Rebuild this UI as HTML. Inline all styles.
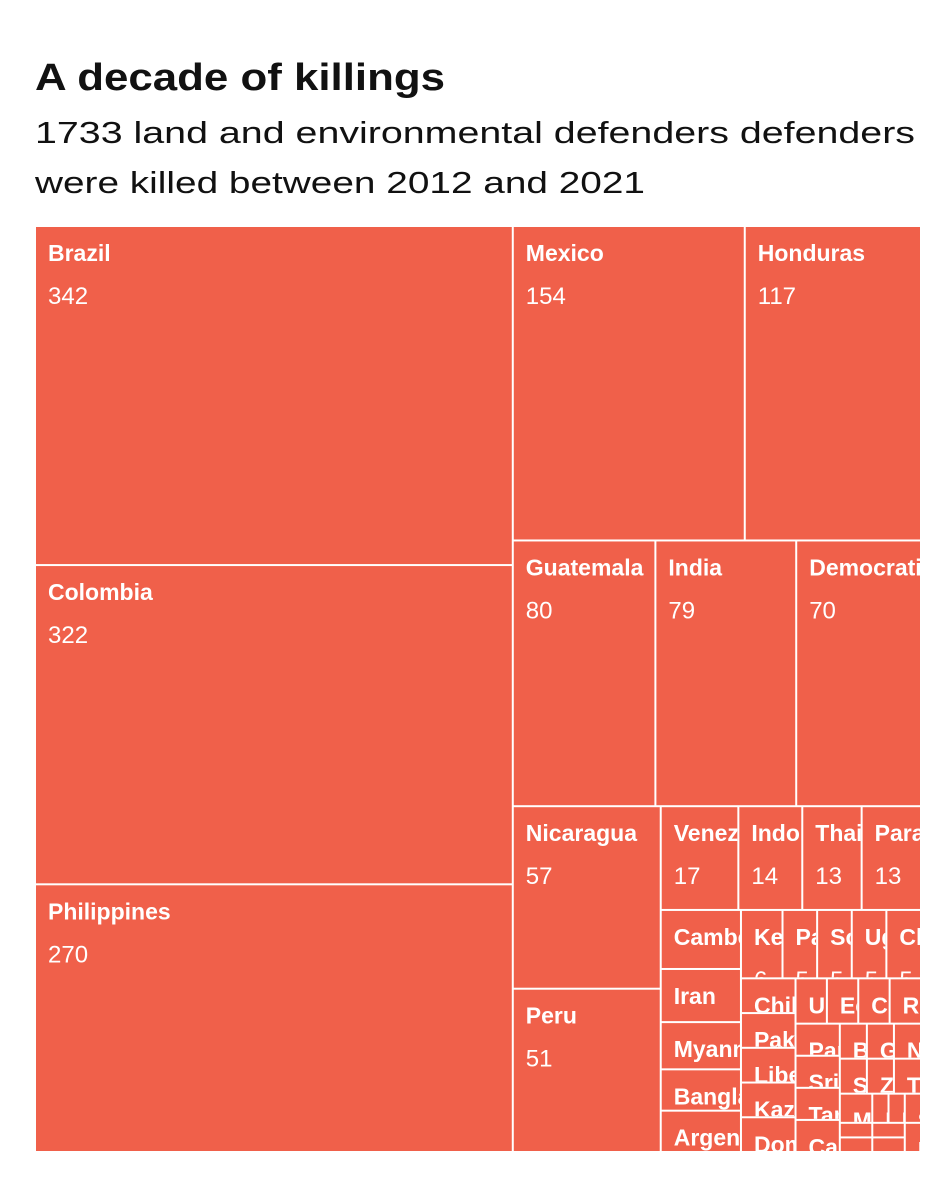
<!DOCTYPE html>
<html><head><meta charset="utf-8">
<style>
html,body{margin:0;padding:0;background:#fff;}
svg{display:block;font-family:"Liberation Sans",sans-serif;}
</style></head>
<body>
<svg id="chart" width="952" height="1200" viewBox="0 0 952 1200" xmlns="http://www.w3.org/2000/svg">
<text x="35" y="90" font-size="38" font-weight="bold" fill="#111" textLength="410" lengthAdjust="spacingAndGlyphs">A decade of killings</text>
<text x="35" y="143" font-size="31" fill="#111" textLength="880" lengthAdjust="spacingAndGlyphs">1733 land and environmental defenders defenders</text>
<text x="35" y="193" font-size="31" fill="#111" textLength="610" lengthAdjust="spacingAndGlyphs">were killed between 2012 and 2021</text>
<g id="cells"></g>
<defs id="clips"></defs>
</svg>
<script>
const countries = ["Brazil","Colombia","Philippines","Mexico","Honduras","Guatemala","India","Democratic Republic of Congo","Nicaragua","Peru","Venezuela","Indonesia","Thailand","Paraguay","Cambodia","Iran","Myanmar","Bangladesh","Argentina","Kenya","Papua New Guinea","South Africa","Uganda","China","Chile","Pakistan","Liberia","Kazakhstan","Dominican Republic","Ukraine","Ecuador","Costa Rica","Russia","Panama","Sri Lanka","Tanzania","Cameroon","Burundi","Ghana","Nigeria","Sierra Leone","Zimbabwe","Turkey","Malaysia","Laos","Mozambique","Nepal","Bolivia","Sudan","Ethiopia","Vietnam","Israel"];
const killings = [342,322,270,154,117,80,79,70,57,51,17,14,13,13,10,9,8,7,7,6,5,5,5,5,4,4,4,4,4,3,3,3,3,3,3,3,3,2,2,2,2,2,2,2,1,1,1,1,1,1,1,1];
const area = {x0:35, y0:226, x1:921, y1:1152};
const ratio = (1 + Math.sqrt(5)) / 2;

function squarify(values, x0, y0, x1, y1) {
  const out = [];
  const n = values.length;
  let value = values.reduce((a,b)=>a+b,0);
  let i0 = 0, i1 = 0;
  while (i0 < n) {
    const dx = x1 - x0, dy = y1 - y0;
    let sumValue = values[i1++];
    let minValue = sumValue, maxValue = sumValue;
    const alpha = Math.max(dy/dx, dx/dy) / (value * ratio);
    let beta = sumValue * sumValue * alpha;
    let minRatio = Math.max(maxValue/beta, beta/minValue);
    for (; i1 < n; ++i1) {
      const v = values[i1];
      sumValue += v;
      if (v < minValue) minValue = v;
      if (v > maxValue) maxValue = v;
      beta = sumValue * sumValue * alpha;
      const newRatio = Math.max(maxValue/beta, beta/minValue);
      if (newRatio > minRatio) { sumValue -= v; break; }
      minRatio = newRatio;
    }
    const dice = dy > dx * 1.1;
    if (dice) {
      const ny = y0 + dy * sumValue / value;
      let x = x0; const k = dx / sumValue;
      for (let i = i0; i < i1; i++) { out[i] = {x0:x, y0:y0, x1:x + values[i]*k, y1:ny}; x += values[i]*k; }
      y0 = ny;
    } else {
      const nx = x0 + dx * sumValue / value;
      let y = y0; const k = dy / sumValue;
      for (let i = i0; i < i1; i++) { out[i] = {x0:x0, y0:y, x1:nx, y1:y + values[i]*k}; y += values[i]*k; }
      x0 = nx;
    }
    value -= sumValue;
    i0 = i1;
  }
  return out;
}

const NS = "http://www.w3.org/2000/svg";
const g = document.getElementById("cells");
const defs = document.getElementById("clips");
const rects = squarify(killings, area.x0, area.y0, area.x1, area.y1);
rects.forEach((r, i) => {
  const slug = countries[i].toLowerCase().replace(/[^a-z]+/g,'-');
  const cg = document.createElementNS(NS, "g");
  
  
  const rect = document.createElementNS(NS, "rect");
  const x = r.x0 + 1, y = r.y0 + 1, w = Math.max(0, r.x1 - r.x0 - 2), h = Math.max(0, r.y1 - r.y0 - 2);
  rect.setAttribute("x", x); rect.setAttribute("y", y);
  rect.setAttribute("width", w); rect.setAttribute("height", h);
  rect.setAttribute("fill", "#f0604a");
  
  
  cg.appendChild(rect);
  const cp = document.createElementNS(NS, "clipPath");
  cp.setAttribute("id", "c" + i);
  const cr = document.createElementNS(NS, "rect");
  cr.setAttribute("x", x); cr.setAttribute("y", y);
  cr.setAttribute("width", w); cr.setAttribute("height", h);
  cp.appendChild(cr); defs.appendChild(cp);
  const lg = document.createElementNS(NS, "g");
  lg.setAttribute("clip-path", "url(#c" + i + ")");
  const t1 = document.createElementNS(NS, "text");
  t1.setAttribute("x", r.x0 + 13); t1.setAttribute("y", r.y0 + 35);
  t1.setAttribute("font-size", "23"); t1.setAttribute("font-weight", "bold"); t1.setAttribute("fill", "#fff");
  t1.textContent = countries[i];
  
  
  const t2 = document.createElementNS(NS, "text");
  t2.setAttribute("x", r.x0 + 13); t2.setAttribute("y", r.y0 + 78);
  t2.setAttribute("font-size", "24"); t2.setAttribute("fill", "#fff");
  t2.textContent = killings[i];
  
  
  lg.appendChild(t1); lg.appendChild(t2);
  cg.appendChild(lg);
  g.appendChild(cg);
});
</script>
</body></html>
